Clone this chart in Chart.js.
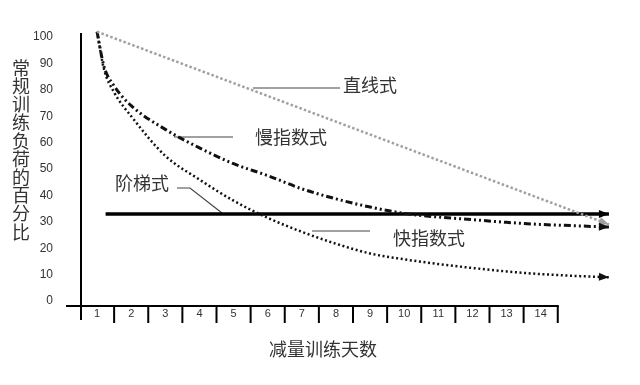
<!DOCTYPE html>
<html><head><meta charset="utf-8">
<script src="https://cdn.jsdelivr.net/npm/chart.js@4/dist/chart.umd.min.js"></script>
<style>html,body{margin:0;padding:0;background:#fff}</style>
</head><body>
<canvas id="c" width="640" height="385"></canvas>
<script>
// ---- data ----
const dayLabels = ['1','2','3','4','5','6','7','8','9','10','11','12','13','14'];
const yTickValues = [0,10,20,30,40,50,60,70,80,90,100];
const curveDays = [1, 1.2, 1.5, 2, 3, 4, 5, 6, 7, 8, 9, 10, 11, 12, 13, 14, 15, 16];
const slowLoad  = [102, 89, 81.5, 74, 65, 58, 52, 47.5, 42.5, 38.7, 35.6, 33.2, 31.8, 30.8, 29.8, 29, 28.5, 28];
const fastLoad  = [102, 88, 79, 70, 55, 46, 38, 31.5, 26.2, 21.7, 18, 15.8, 14, 12.5, 11.2, 10.2, 9.5, 9];
const linearDays = [1, 16];
const linearLoad = [102, 29];
const stepDays = [1.25, 16];
const stepLoad = [33, 33];
const seriesNames = ['直线式', '慢指数式', '快指数式', '阶梯式'];
const yTitle = '常规训练负荷的百分比';
const xTitle = '减量训练天数';

const pts = (xs, ys) => xs.map((x, i) => ({x: x, y: ys[i]}));
const CJK = '"Noto Sans CJK SC", "Noto Sans", sans-serif';
const TXT = '#333';

const decor = {
  id: 'decor',
  beforeDatasetsDraw(chart) {
    const {ctx, chartArea: ca, scales: {x, y}} = chart;
    ctx.save();
    ctx.strokeStyle = '#000';
    ctx.lineWidth = 2;
    const axisY = ca.bottom + 5;
    const x0 = x.getPixelForValue(0.5);
    // horizontal axis
    ctx.beginPath();
    ctx.moveTo(x0 - 14, axisY);
    ctx.lineTo(x.getPixelForValue(dayLabels.length + 0.5) + 1, axisY);
    ctx.stroke();
    // vertical axis
    ctx.beginPath();
    ctx.moveTo(x0 + 1, y.getPixelForValue(100) - 4);
    ctx.lineTo(x0 + 1, axisY + 14);
    ctx.stroke();
    // cell separators
    for (let i = 1; i <= dayLabels.length; i++) {
      const px = x.getPixelForValue(i + 0.5);
      ctx.beginPath();
      ctx.moveTo(px, axisY);
      ctx.lineTo(px, axisY + 17);
      ctx.stroke();
    }
    // y title (stacked characters)
    ctx.fillStyle = TXT;
    ctx.font = '18px ' + CJK;
    ctx.textAlign = 'center';
    ctx.textBaseline = 'middle';
    [...yTitle].forEach((ch, i) => ctx.fillText(ch, 21, 68 + i * 18.2));
    // x title
    ctx.fillText(xTitle, 323, 349);
    // annotations
    ctx.textAlign = 'left';
    ctx.fillText(seriesNames[0], 343, 85);
    ctx.fillText(seriesNames[1], 255, 137);
    ctx.fillText(seriesNames[2], 393, 238);
    ctx.fillText(seriesNames[3], 115, 183);
    ctx.strokeStyle = '#444';
    ctx.lineWidth = 1.2;
    const seg = (arr) => { ctx.beginPath(); ctx.moveTo(arr[0][0], arr[0][1]); for (let k = 1; k < arr.length; k++) ctx.lineTo(arr[k][0], arr[k][1]); ctx.stroke(); };
    seg([[253, 88], [340, 88]]);
    seg([[174, 137], [233, 137]]);
    seg([[312, 231], [370, 231]]);
    seg([[177, 188], [190, 188], [222, 213]]);
    ctx.restore();
  },
  afterDatasetsDraw(chart) {
    const {ctx} = chart;
    chart.data.datasets.forEach((ds, di) => {
      const meta = chart.getDatasetMeta(di);
      const p = meta.data;
      const a = p[p.length - 2], b = p[p.length - 1];
      const ang = Math.atan2(b.y - a.y, b.x - a.x);
      const L = 10, W = 4;
      ctx.save();
      ctx.translate(b.x, b.y);
      ctx.rotate(ang);
      ctx.fillStyle = ds.borderColor;
      ctx.beginPath();
      ctx.moveTo(0, 0);
      ctx.lineTo(-L, -W);
      ctx.lineTo(-L, W);
      ctx.closePath();
      ctx.fill();
      ctx.restore();
    });
  }
};

new Chart(document.getElementById('c'), {
  type: 'line',
  data: {
    datasets: [
      {label: seriesNames[0], data: pts(linearDays, linearLoad), borderColor: '#a0a0a0', borderWidth: 2.5, borderDash: [2.5, 2.2], pointRadius: 0, clip: false, tension: 0},
      {label: seriesNames[1], data: pts(curveDays, slowLoad), borderColor: '#111', borderWidth: 3, borderDash: [7, 3, 2, 3, 2, 3], pointRadius: 0, clip: false, cubicInterpolationMode: 'monotone'},
      {label: seriesNames[2], data: pts(curveDays, fastLoad), borderColor: '#111', borderWidth: 2.5, borderDash: [2, 2.6], pointRadius: 0, clip: false, cubicInterpolationMode: 'monotone'},
      {label: seriesNames[3], data: pts(stepDays, stepLoad), borderColor: '#000', borderWidth: 3.5, pointRadius: 0, clip: false, tension: 0}
    ]
  },
  options: {
    responsive: false,
    animation: false,
    devicePixelRatio: 1,
    layout: {padding: {top: 37, right: 14, bottom: 0, left: 0}},
    plugins: {legend: {display: false}, tooltip: {enabled: false}},
    scales: {
      x: {
        type: 'linear', min: 0.5, max: 16.5,
        grid: {display: false, drawTicks: false},
        border: {display: false},
        afterBuildTicks: s => { s.ticks = dayLabels.map((_, i) => ({value: i + 1})); },
        afterFit: s => { s.height = 84; },
        ticks: {
          autoSkip: false, maxRotation: 0, padding: 6, color: TXT,
          font: {family: '"Liberation Sans", Arial, sans-serif', size: 11},
          callback: (v, i) => dayLabels[i]
        }
      },
      y: {
        min: 0, max: 100,
        grid: {display: false, drawTicks: false},
        border: {display: false},
        afterBuildTicks: s => { s.ticks = yTickValues.map(v => ({value: v})); },
        afterFit: s => { s.width = 80; },
        ticks: {
          padding: 27, color: TXT,
          font: {family: '"Liberation Sans", Arial, sans-serif', size: 12},
          callback: v => String(v)
        }
      }
    }
  },
  plugins: [decor]
});
</script>
</body></html>
